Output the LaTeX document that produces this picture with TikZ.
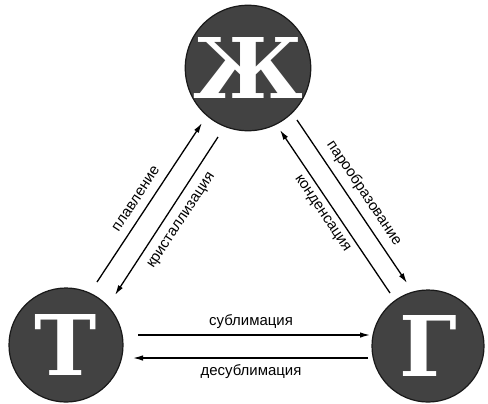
\documentclass[tikz,border=0pt]{standalone}
\usepackage{fontspec}
\setmainfont{Liberation Sans}
\newfontfamily\bigletter{DejaVu Serif}
\usetikzlibrary{arrows.meta}
\begin{document}
\begin{tikzpicture}[x=1bp,y=-1bp,
  phase/.style={circle,minimum size=114bp,inner sep=0pt,fill=black!74,draw=black!90,line width=1.2bp,
    text=white,font=\bigletter\bfseries\fontsize{84}{84}\selectfont},
  conn/.style={line width=1.3bp,-{Latex[length=10bp,width=5.5bp]}},
  lbl/.style={font=\fontsize{15}{17}\selectfont,inner sep=1bp}]
\useasboundingbox (0,0) rectangle (488,403);
\node[phase] (zh) at (248,68) {Ж};
\node[phase] (t) at (66,345) {Т};
\node[phase,minimum size=112bp] (g) at (428,346) {Г};
% left side
\coordinate (p1) at (97,282); \coordinate (p2) at (202,123);
\coordinate (k1) at (218,137); \coordinate (k2) at (115,295);
\draw[conn] (p1) -- (p2);
\draw[conn] (k1) -- (k2);
\node[lbl,rotate=56.6] (lpl) at (136,199) {плавление};
\node[lbl,rotate=56.6] (lkr) at (182,221) {кристаллизация};
% right side
\coordinate (c1) at (390,293); \coordinate (c2) at (280,130);
\coordinate (v1) at (297,120); \coordinate (v2) at (407,283);
\draw[conn] (c1) -- (c2);
\draw[conn] (v1) -- (v2);
\node[lbl,rotate=-56] (lpar) at (364,193) {парообразование};
\node[lbl,rotate=-56] (lkon) at (322,214) {конденсация};
% bottom
\coordinate (s1) at (138,335); \coordinate (s2) at (370,335);
\coordinate (d1) at (368,358); \coordinate (d2) at (133,358);
\draw[conn] (s1) -- (s2);
\draw[conn] (d1) -- (d2);
\node[lbl] (lsub) at (251,322) {сублимация};
\node[lbl] (ldes) at (251,372) {десублимация};
\end{tikzpicture}
\end{document}
